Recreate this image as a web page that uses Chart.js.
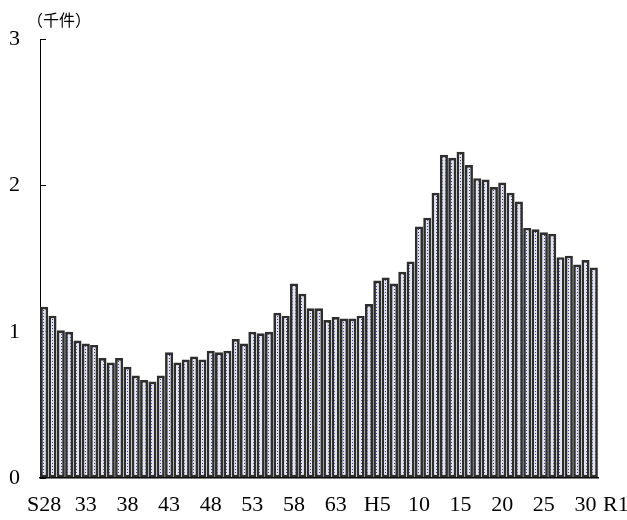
<!DOCTYPE html>
<html>
<head>
<meta charset="utf-8">
<script src="https://cdn.jsdelivr.net/npm/chart.js@4"></script>
<style>
  html, body { margin: 0; padding: 0; background: #ffffff; }
  #wrap { position: relative; width: 627px; height: 520px; }
  #unit { position: absolute; left: 27px; top: 9px; font-family: "Noto Sans CJK JP", sans-serif; font-size: 16px; line-height: 20px; color: #000; }
</style>
</head>
<body>
<div id="wrap">
  <canvas id="c" width="627" height="520"></canvas>
  <div id="unit">（千件）</div>
</div>
<script>
// Categories: S28 (1953) .. S63, H1 .. H30, R1 (2019)
const categories = [
  'S28','S29','S30','S31','S32','S33','S34','S35','S36','S37',
  'S38','S39','S40','S41','S42','S43','S44','S45','S46','S47',
  'S48','S49','S50','S51','S52','S53','S54','S55','S56','S57',
  'S58','S59','S60','S61','S62','S63',
  'H1','H2','H3','H4','H5','H6','H7','H8','H9','H10',
  'H11','H12','H13','H14','H15','H16','H17','H18','H19','H20',
  'H21','H22','H23','H24','H25','H26','H27','H28','H29','H30',
  'R1'
];
// Values in thousands of cases (千件)
const values = [
  1.17, 1.11, 1.01, 1.00, 0.94, 0.92, 0.91, 0.82, 0.79, 0.82,
  0.76, 0.70, 0.67, 0.66, 0.70, 0.86, 0.79, 0.81, 0.83, 0.81,
  0.87, 0.86, 0.87, 0.95, 0.92, 1.00, 0.99, 1.00, 1.13, 1.11,
  1.33, 1.26, 1.16, 1.16, 1.08, 1.10,
  1.09, 1.09, 1.11, 1.19, 1.35, 1.37, 1.33, 1.41, 1.48, 1.72,
  1.78, 1.95, 2.21, 2.19, 2.23, 2.14, 2.05, 2.04, 1.99, 2.02,
  1.95, 1.89, 1.71, 1.70, 1.68, 1.67, 1.51, 1.52, 1.46, 1.49,
  1.44
];
// Which categories carry an x tick label, and the label text
const tickCategories = ['S28','S33','S38','S43','S48','S53','S58','S63','H5','H10','H15','H20','H25','H30','R1'];
const tickLabels     = ['S28','33','38','43','48','53','58','63','H5','10','15','20','25','30','R1'];
const yTicks = [0, 1, 2, 3];

const canvas = document.getElementById('c');
const ctx = canvas.getContext('2d');

// dotted fill pattern
const pc = document.createElement('canvas');
pc.width = 3; pc.height = 3;
const pg = pc.getContext('2d');
pg.fillStyle = '#e4e4f0';
pg.fillRect(0, 0, 3, 3);
pg.fillStyle = '#38388c';
pg.fillRect(1, 1, 1, 1);
const pattern = ctx.createPattern(pc, 'repeat');

const serif = '"Liberation Serif", "DejaVu Serif", serif';

new Chart(ctx, {
  type: 'bar',
  data: {
    labels: categories,
    datasets: [{
      data: values,
      backgroundColor: pattern,
      borderColor: '#2e2e2e',
      borderWidth: 2.7,
      borderSkipped: false,
      barPercentage: 0.97,
      categoryPercentage: 1.0
    }]
  },
  options: {
    responsive: false,
    animation: false,
    layout: { padding: { top: 39, right: 29, bottom: 0, left: 0 } },
    plugins: { legend: { display: false }, tooltip: { enabled: false }, title: { display: false } },
    scales: {
      x: {
        grid: { display: false },
        border: { display: true, color: '#000000', width: 1.5 },
        ticks: {
          autoSkip: false,
          maxRotation: 0,
          minRotation: 0,
          padding: 6,
          color: '#000000',
          font: { family: serif, size: 22 },
          callback: function (val, idx) {
            const cat = categories[idx];
            const k = tickCategories.indexOf(cat);
            if (k < 0) return '';
            const t = tickLabels[k];
            return cat === 'R1' ? '\u2002\u2002\u2002\u2002' + t : t;
          }
        },
        afterFit: function (s) { s.height = 42; s.paddingRight = 0; s.paddingLeft = 0; }
      },
      y: {
        min: 0,
        max: 3,
        afterBuildTicks: function (s) { s.ticks = yTicks.map(v => ({ value: v })); },
        grid: { drawOnChartArea: false, drawTicks: true, tickLength: -6, color: '#000000', lineWidth: 1 },
        border: { display: true, color: '#000000', width: 1 },
        ticks: {
          padding: 26,
          color: '#000000',
          font: { family: serif, size: 22 }
        },
        afterFit: function (s) { s.width = 40; }
      }
    }
  }
});
</script>
</body>
</html>
